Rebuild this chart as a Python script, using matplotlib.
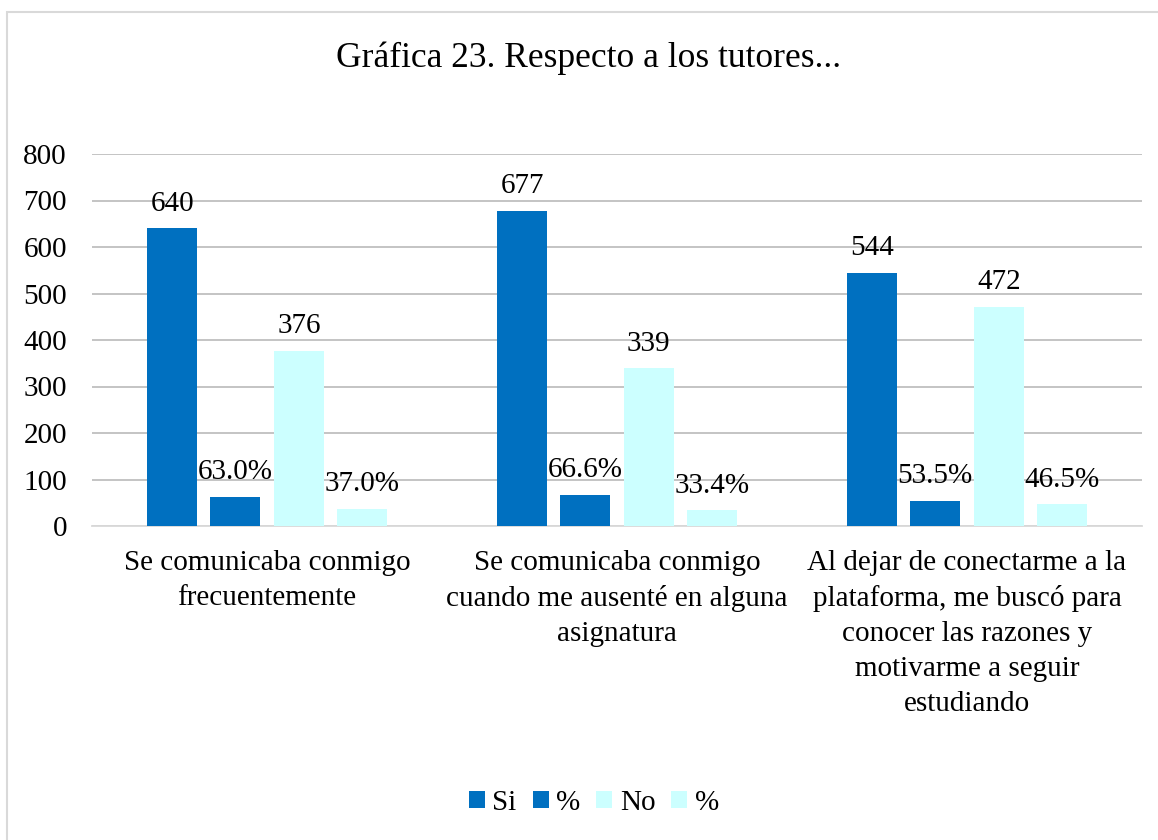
import numpy as np
import matplotlib.pyplot as plt
from matplotlib.patches import Rectangle

plt.rcParams["font.family"] = ["Liberation Serif", "DejaVu Serif"]

categories = [
    "Se comunicaba conmigo\nfrecuentemente",
    "Se comunicaba conmigo\ncuando me ausenté en alguna\nasignatura",
    "Al dejar de conectarme a la\nplataforma, me buscó para\nconocer las razones y\nmotivarme a seguir\nestudiando",
]
si_counts = [640, 677, 544]
si_pct = [63.0, 66.6, 53.5]
no_counts = [376, 339, 472]
no_pct = [37.0, 33.4, 46.5]

series = [
    ("Si", si_counts, "#0070C0", False),
    ("%", si_pct, "#0070C0", True),
    ("No", no_counts, "#CCFFFF", False),
    ("%", no_pct, "#CCFFFF", True),
]
offsets = [-0.271, -0.091, 0.091, 0.271]
width = 0.143
FS = 21

fig = plt.figure(figsize=(11.58, 8.4), dpi=100)
fig.patches.append(Rectangle((7 / 1158, -0.01), 1.2, 1 - 12 / 840 + 0.01,
                             transform=fig.transFigure, fill=False,
                             edgecolor="#D9D9D9", linewidth=1.5))
ax = fig.add_axes([92 / 1158, 1 - 526 / 840, (1142 - 92) / 1158, (526 - 154) / 840])

x = np.arange(len(categories))
for (name, vals, color, is_pct), off in zip(series, offsets):
    bars = ax.bar(x + off, vals, width, color=color, label=name, zorder=3)
    labels = [f"{v:.1f}%" if is_pct else f"{v:g}" for v in vals]
    ax.bar_label(bars, labels=labels, padding=8.5, fontsize=FS, zorder=4)

ax.set_xlim(-0.5, 2.5)
ax.set_ylim(0, 800)
ax.set_yticks(range(0, 801, 100))
ax.yaxis.grid(True, color="#BFBFBF", linewidth=1.3, zorder=0)
ax.set_axisbelow(True)
ax.tick_params(axis="y", length=0, labelsize=FS, pad=18)
ax.tick_params(axis="x", length=0, labelsize=FS, pad=17)
ax.set_xticks(x)
ax.set_xticklabels(categories, linespacing=1.45)
for side in ["top", "right", "left"]:
    ax.spines[side].set_visible(False)
ax.spines["bottom"].set_color("#D9D9D9")
ax.spines["bottom"].set_linewidth(1.3)

fig.text(0.508, 1 - 58 / 840, "Gráfica 23. Respecto a los tutores...",
         ha="center", va="center", fontsize=25.5)

fig.legend(loc="center", bbox_to_anchor=(0.513, 1 - 803 / 840), ncol=4,
           frameon=False, fontsize=FS, handlelength=0.55, handleheight=0.55,
           handletextpad=0.25, columnspacing=0.55)

fig.savefig("out.png", dpi=100)
